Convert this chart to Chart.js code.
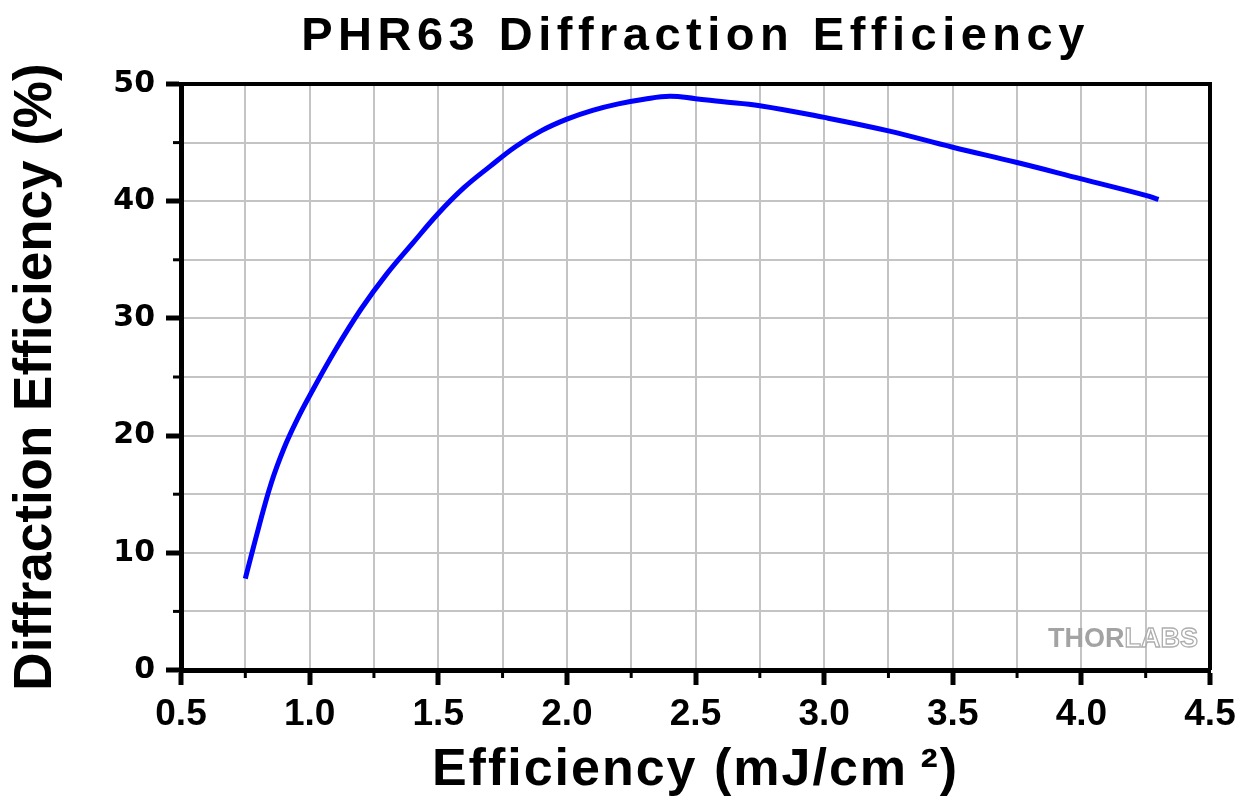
<!DOCTYPE html>
<html>
<head>
<meta charset="utf-8">
<script src="https://cdn.jsdelivr.net/npm/chart.js@4.4.1/dist/chart.umd.min.js"></script>
<style>
  html, body { margin: 0; padding: 0; background: #ffffff; }
  #wrap { width: 1252px; height: 801px; }
</style>
</head>
<body>
<div id="wrap"><canvas id="c" width="1252" height="801"></canvas></div>
<script>
// ---- data ----
const fluence = [0.75, 0.8, 0.85, 0.9, 0.95, 1.0, 1.1, 1.2, 1.3, 1.4, 1.5, 1.6, 1.7, 1.8, 1.9, 2.0, 2.1, 2.2, 2.3, 2.4, 2.5, 2.6, 2.75, 3.0, 3.25, 3.5, 3.75, 4.0, 4.25, 4.3];
const efficiency = [7.8, 12.0, 15.9, 18.9, 21.3, 23.4, 27.3, 30.8, 33.8, 36.4, 38.95, 41.15, 42.95, 44.65, 46.0, 47.0, 47.75, 48.3, 48.7, 48.95, 48.75, 48.5, 48.15, 47.15, 46.0, 44.6, 43.3, 41.9, 40.5, 40.15];
const xTickValues = [0.5, 1.0, 1.5, 2.0, 2.5, 3.0, 3.5, 4.0, 4.5];
const yTickValues = [0, 10, 20, 30, 40, 50];
const chartTitle = 'PHR63 Diffraction Efficiency';
const xTitle = 'Efficiency (mJ/cm\u2009\u00B2)';
const yTitle = 'Diffraction Efficiency (%)';
const watermark = ['THOR', 'LABS'];

const points = fluence.map((x, i) => ({ x: x, y: efficiency[i] }));
const isMajorX = v => xTickValues.some(t => Math.abs(t - v) < 1e-9);
const isMajorY = v => yTickValues.some(t => Math.abs(t - v) < 1e-9);

function wrapSpacing(obj, method, spacing, before, after) {
  const orig = obj[method];
  obj[method] = function (...args) {
    const c = this.ctx;
    const prev = c.letterSpacing;
    c.letterSpacing = spacing;
    if (before) before.call(this);
    orig.apply(this, args);
    if (after) after.call(this);
    c.letterSpacing = prev;
  };
}

const framePlugin = {
  id: 'frame',
  beforeDraw(chart) {
    if (chart.$wrapped) return;
    chart.$wrapped = true;
    if (chart.titleBlock) wrapSpacing(chart.titleBlock, 'draw', '5.5px');
    wrapSpacing(chart.scales.x, 'drawTitle', '2px');
    let saved;
    wrapSpacing(chart.scales.y, 'drawTitle', '0px',
      function () { saved = [this.top, this.bottom]; this.top -= 60; this.bottom += 60; },
      function () { this.top = saved[0]; this.bottom = saved[1]; });
  },
  afterDraw(chart) {
    const ctx = chart.ctx;
    const a = chart.chartArea;
    const xs = chart.scales.x, ys = chart.scales.y;
    ctx.save();
    ctx.strokeStyle = '#000';
    // minor ticks
    ctx.lineWidth = 3;
    xs.ticks.forEach(t => {
      if (!isMajorX(t.value)) {
        const px = xs.getPixelForValue(t.value);
        ctx.beginPath(); ctx.moveTo(px, a.bottom); ctx.lineTo(px, a.bottom + 8); ctx.stroke();
      }
    });
    ys.ticks.forEach(t => {
      if (!isMajorY(t.value)) {
        const py = ys.getPixelForValue(t.value);
        ctx.beginPath(); ctx.moveTo(a.left - 8, py); ctx.lineTo(a.left, py); ctx.stroke();
      }
    });
    // top and right frame
    ctx.lineWidth = 4;
    ctx.beginPath();
    ctx.moveTo(a.left, a.top); ctx.lineTo(a.right, a.top); ctx.lineTo(a.right, a.bottom);
    ctx.stroke();
    // watermark
    ctx.font = 'bold 27px "Liberation Sans", Arial, sans-serif';
    ctx.letterSpacing = '0px';
    ctx.textBaseline = 'alphabetic';
    ctx.textAlign = 'left';
    const w1 = ctx.measureText(watermark[0]).width;
    const w2 = ctx.measureText(watermark[1]).width;
    const wx = a.right - 12 - w1 - w2, wy = a.bottom - 23;
    ctx.fillStyle = '#a3a3a3';
    ctx.fillText(watermark[0], wx, wy);
    ctx.strokeStyle = '#adadad';
    ctx.lineWidth = 1.3;
    ctx.strokeText(watermark[1], wx + w1, wy);
    ctx.restore();
  }
};

new Chart(document.getElementById('c'), {
  type: 'line',
  data: {
    datasets: [{
      data: points,
      borderColor: '#0000ff',
      borderWidth: 5,
      pointRadius: 0,
      fill: false,
      tension: 0.4
    }]
  },
  options: {
    responsive: false,
    animation: false,
    events: [],
    layout: { padding: { left: 0, right: 42, top: 0, bottom: 0 } },
    plugins: {
      legend: { display: false },
      tooltip: { enabled: false },
      title: {
        display: true,
        text: chartTitle,
        fullSize: false,
        color: '#000',
        font: { family: '"Liberation Sans", Arial, sans-serif', weight: 'bold', size: 47, lineHeight: 1 },
        padding: { top: 14, bottom: 23 }
      }
    },
    scales: {
      x: {
        type: 'linear',
        min: 0.5, max: 4.5,
        afterFit: s => { s.height = 131; },
        border: { display: true, color: '#000', width: 5 },
        grid: {
          color: '#c4c4c4', lineWidth: 2, drawTicks: true, tickLength: 15,
          tickColor: c => (c.tick && isMajorX(c.tick.value)) ? '#000' : 'rgba(0,0,0,0)',
          tickWidth: 5
        },
        ticks: {
          stepSize: 0.25, autoSkip: false, maxRotation: 0, minRotation: 0,
          color: '#000', padding: 8,
          font: { family: '"Liberation Sans", Arial, sans-serif', weight: 'bold', size: 37 },
          callback: v => isMajorX(v) ? v.toFixed(1) : ''
        },
        title: {
          display: true, text: xTitle, color: '#000',
          font: { family: '"Liberation Sans", Arial, sans-serif', weight: 'bold', size: 52, lineHeight: 1 },
          padding: { top: 0, bottom: 4 }
        }
      },
      y: {
        type: 'linear',
        min: 0, max: 50,
        afterFit: s => { s.width = 181; },
        border: { display: true, color: '#000', width: 5 },
        grid: {
          color: '#c4c4c4', lineWidth: 2, drawTicks: true, tickLength: 15,
          tickColor: c => (c.tick && isMajorY(c.tick.value)) ? '#000' : 'rgba(0,0,0,0)',
          tickWidth: 5
        },
        ticks: {
          stepSize: 5, autoSkip: false,
          color: '#000', padding: 11,
          font: { family: '"DejaVu Sans", sans-serif', weight: 'bold', size: 30 },
          callback: v => isMajorY(v) ? String(v) : ''
        },
        title: {
          display: true, text: yTitle, color: '#000',
          font: { family: '"Liberation Sans", Arial, sans-serif', weight: 'bold', size: 53, lineHeight: 1 },
          padding: { top: 10, bottom: 0 }
        }
      }
    }
  },
  plugins: [framePlugin]
});
</script>
</body>
</html>
